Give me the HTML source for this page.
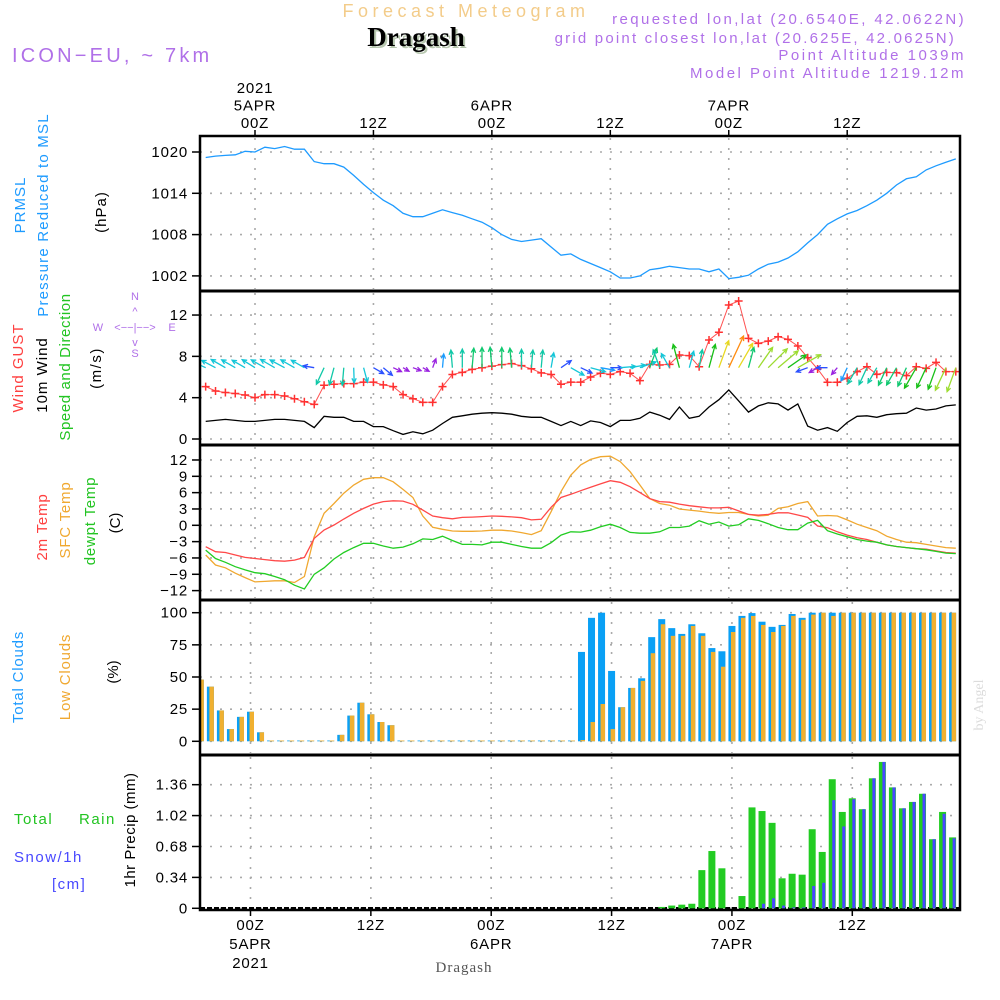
<!DOCTYPE html>
<html><head><meta charset="utf-8"><style>
html,body{margin:0;padding:0;background:#fff;}
svg{display:block;font-family:"Liberation Sans",sans-serif;}
.tk{font-size:15px;fill:#000;letter-spacing:0.8px;}
.lab{font-size:15px;}
</style></head><body>
<svg id="chart" width="1000" height="1000" viewBox="0 0 1000 1000" xmlns="http://www.w3.org/2000/svg">
<defs>
<clipPath id="clipAll"><rect x="201" y="137" width="758" height="772"/></clipPath>
</defs>
<g>
<text x="466" y="17" text-anchor="middle" font-size="18" fill="#f3cc8a" letter-spacing="4.5">Forecast Meteogram</text>
<text x="418" y="48" text-anchor="middle" font-size="27" font-weight="bold" font-family="Liberation Serif, serif" fill="#b8c8b0">Dragash</text>
<text x="416" y="46" text-anchor="middle" font-size="27" font-weight="bold" font-family="Liberation Serif, serif" fill="#000">Dragash</text>
<text x="12" y="62" font-size="20" fill="#b070e8" letter-spacing="3.2">ICON−EU, ~ 7km</text>
<text x="966" y="24" text-anchor="end" font-size="15" fill="#b070e8" letter-spacing="2.4">requested lon,lat (20.6540E, 42.0622N)</text>
<text x="956" y="43" text-anchor="end" font-size="15" fill="#b070e8" letter-spacing="2.2">grid point closest lon,lat (20.625E, 42.0625N)</text>
<text x="966" y="60" text-anchor="end" font-size="15" fill="#b070e8" letter-spacing="2.5">Point Altitude 1039m</text>
<text x="966" y="78" text-anchor="end" font-size="15" fill="#b070e8" letter-spacing="2.5">Model Point Altitude 1219.12m</text>
</g>
<g class="lab">
<text transform="translate(25,205) rotate(-90)" text-anchor="middle" fill="#1e9bff" letter-spacing="1">PRMSL</text>
<text transform="translate(48,215) rotate(-90)" text-anchor="middle" fill="#1e9bff" letter-spacing="1.2">Pressure Reduced to MSL</text>
<text transform="translate(106,212) rotate(-90)" text-anchor="middle" fill="#000" letter-spacing="1">(hPa)</text>
<text transform="translate(23,368) rotate(-90)" text-anchor="middle" fill="#ff4040" letter-spacing="1">Wind GUST</text>
<text transform="translate(47,375) rotate(-90)" text-anchor="middle" fill="#000" letter-spacing="1">10m Wind</text>
<text transform="translate(70,367) rotate(-90)" text-anchor="middle" fill="#22c422" letter-spacing="0.6">Speed and Direction</text>
<text transform="translate(101,368) rotate(-90)" text-anchor="middle" fill="#000" letter-spacing="1.5">(m/s)</text>
<text x="135" y="300" text-anchor="middle" font-size="11" fill="#b070e8">N</text>
<text x="135" y="315" text-anchor="middle" font-size="11" fill="#b070e8">^</text>
<text x="135" y="331" text-anchor="middle" font-size="11" fill="#b070e8">&lt;−−|−−&gt;</text>
<text x="98" y="331" text-anchor="middle" font-size="11" fill="#b070e8">W</text>
<text x="172" y="331" text-anchor="middle" font-size="11" fill="#b070e8">E</text>
<text x="135" y="346" text-anchor="middle" font-size="11" fill="#b070e8">v</text>
<text x="135" y="357" text-anchor="middle" font-size="11" fill="#b070e8">S</text>
<text transform="translate(47,527) rotate(-90)" text-anchor="middle" fill="#ff4040" letter-spacing="0.8">2m Temp</text>
<text transform="translate(70,520) rotate(-90)" text-anchor="middle" fill="#f0a830" letter-spacing="0.8">SFC Temp</text>
<text transform="translate(95,521) rotate(-90)" text-anchor="middle" fill="#22c422" letter-spacing="0.8">dewpt Temp</text>
<text transform="translate(120,523) rotate(-90)" text-anchor="middle" fill="#000">(C)</text>
<text transform="translate(23,677) rotate(-90)" text-anchor="middle" fill="#1e9bff" letter-spacing="0.8">Total Clouds</text>
<text transform="translate(70,677) rotate(-90)" text-anchor="middle" fill="#f0a830" letter-spacing="0.8">Low Clouds</text>
<text transform="translate(118,672) rotate(-90)" text-anchor="middle" fill="#000">(%)</text>
<text x="14" y="824" fill="#22c422" letter-spacing="1.5">Total</text>
<text x="79" y="824" fill="#22c422" letter-spacing="1.5">Rain</text>
<text x="14" y="862" fill="#4848ff" letter-spacing="1.5">Snow/1h</text>
<text x="52" y="889" fill="#4848ff" letter-spacing="1.5">[cm]</text>
<text transform="translate(135,830) rotate(-90)" text-anchor="middle" fill="#000" letter-spacing="0.5">1hr Precip (mm)</text>
<text transform="translate(983,705) rotate(-90)" text-anchor="middle" font-size="14" font-family="Liberation Serif, serif" fill="#dcdcdc">by Angel</text>
<text x="464" y="972" text-anchor="middle" font-size="15" font-family="Liberation Serif, serif" fill="#555" letter-spacing="1">Dragash</text>
</g>
<g id="grid"></g>
<g id="marks" clip-path="url(#clipAll)"></g>
<g id="axes"></g>
</svg>
<script>
// ---------- data (hourly, hours relative to 5APR 00Z) ----------
const hourStart = -5;
const pressure = [1019.2,1019.4,1019.5,1019.6,1020.1,1020,1020.7,1020.5,1020.8,1020.4,1020.4,1018.6,1018.3,1018.3,1017.8,1016.6,1015.3,1014.1,1013,1012.2,1011.1,1010.6,1010.6,1011.1,1011.6,1011.2,1010.8,1010.3,1009.8,1009,1008,1007.3,1007,1007.2,1007.4,1006.2,1005,1005.2,1004.4,1003.8,1003.2,1002.6,1001.7,1001.7,1002,1002.9,1003.1,1003.4,1003.2,1003,1003,1002.6,1003,1001.6,1001.8,1002.1,1003,1003.7,1004,1004.6,1005.5,1006.8,1008,1009.5,1010.3,1011,1011.5,1012.2,1013,1014,1015.2,1016.1,1016.4,1017.4,1018,1018.5,1019];
const windMean = [1.7,1.8,1.9,1.8,1.7,1.7,1.8,1.9,1.9,1.8,1.7,1.1,2.2,2.1,2.1,1.7,1.7,1.2,1.2,0.8,0.45,0.7,0.5,0.85,1.5,2.1,2.25,2.4,2.5,2.55,2.5,2.4,2.2,2.1,2.1,1.7,1.3,1.7,1.3,1.75,1.6,1.2,1.8,1.8,2.0,2.6,2.3,1.9,3.1,2.0,2.2,3.1,3.8,4.75,3.7,2.6,3.2,3.5,3.4,2.8,3.4,1.25,0.85,1.1,0.75,1.6,2.2,2.25,2.1,2.35,2.45,2.5,3.0,2.8,2.9,3.2,3.3];
const windGust = [5.07,4.65,4.5,4.4,4.26,4.0,4.3,4.3,4.16,3.9,3.6,3.35,5.2,5.3,5.36,5.36,5.5,5.5,5.24,5.07,4.3,3.9,3.55,3.55,5.07,6.25,6.45,6.74,6.9,7.05,7.2,7.3,7.1,6.8,6.4,6.25,5.3,5.5,5.5,6.0,6.36,6.26,6.52,6.36,5.65,7.23,7.16,7.23,8.13,8.07,7.0,9.58,10.33,12.97,13.36,9.74,9.26,9.48,9.9,9.65,9.0,7.87,6.78,5.49,5.49,5.88,6.52,7.0,6.26,6.45,6.42,6.13,7.0,6.84,7.42,6.52,6.52];
const windDir = [295,298,300,300,300,302,300,300,298,300,300,280,205,195,185,178,165,120,130,115,120,110,120,20,5,355,0,5,0,355,0,355,0,5,5,10,55,120,115,105,100,90,85,80,70,20,340,330,345,15,10,15,20,25,30,15,35,45,50,55,60,250,240,270,220,205,210,205,210,205,210,205,210,205,200,205,200];
const temp2m = [-3.93,-4.85,-5.0,-5.45,-5.9,-6.1,-6.3,-6.5,-6.6,-6.4,-5.9,-2.4,-0.86,0.05,1.15,2.2,3.1,3.9,4.35,4.5,4.45,3.85,2.8,1.7,1.4,1.2,1.45,1.5,1.6,1.7,1.65,1.55,1.4,1.0,1.1,3.3,5.1,5.7,6.35,7.0,7.6,8.2,7.9,7.1,6.0,4.9,4.35,4.25,3.9,3.6,3.4,3.2,3.2,3.3,2.65,2.0,1.85,2.0,2.3,2.3,1.9,1.45,-0.13,-0.45,-1.2,-1.8,-2.3,-2.6,-3.1,-3.6,-3.9,-4.1,-4.3,-4.4,-4.7,-5.0,-5.1];
const tempSfc = [-5.45,-7.3,-7.8,-8.8,-9.6,-10.4,-10.3,-10.2,-10.2,-10.5,-9.4,-2.1,2.2,4.0,5.9,7.4,8.45,8.75,8.75,8.0,6.6,5.1,1.7,-0.37,-0.74,-1.05,-1.1,-1.1,-1.05,-0.9,-0.9,-1.05,-1.35,-1.7,-1.0,2.5,6.2,9.2,11.1,12.1,12.6,12.7,11.7,9.85,7.4,4.9,4.0,3.7,3.0,2.8,2.6,2.35,2.2,2.35,2.35,2.0,1.7,1.85,3.1,3.4,4.0,4.35,1.7,1.8,1.7,1.0,0.2,-0.4,-1.0,-2.0,-2.6,-3.1,-3.2,-3.5,-3.8,-4.1,-4.2];
const tempDew = [-4.55,-6.1,-6.8,-7.6,-8.2,-8.7,-8.9,-9.4,-10.0,-11.0,-11.7,-9.0,-7.8,-6.2,-5.0,-4.1,-3.3,-3.3,-3.8,-4.2,-4.0,-3.4,-2.5,-2.6,-2.0,-2.8,-3.5,-3.5,-3.6,-3.1,-3.1,-3.5,-3.9,-4.2,-4.2,-3.2,-1.8,-1.2,-1.25,-0.9,-0.25,0.2,-0.4,-1.3,-1.45,-1.45,-1.2,-0.4,-0.4,-0.15,0.85,0.2,0.6,-0.15,0.1,1.2,0.9,0.3,-0.4,-0.8,-0.8,0.4,0.9,-1.0,-1.6,-2.1,-2.6,-2.9,-3.1,-3.6,-3.9,-4.1,-4.3,-4.5,-4.8,-5.1,-5.2];
const cloudTotal = [48,42.5,24,9.5,19,23,7,0,0,0,0,0,0,0,5,20,30,21,15,12.5,0,0,0,0,0,0,0,0,0,0,0,0,0,0,0,0,0,0,69.5,96,100,54.7,26.5,41.5,49,81,95,88,83.5,91,84,72.5,70,89.7,97.5,99.7,93,89,90.5,99,96,100,100,100,100,100,100,100,100,100,100,100,100,100,100,100,100];
const cloudLow = [48,42.5,24,9.5,19,23,7,0,0,0,0,0,0,0,5,20,30,21,15,12.5,0,0,0,0,0,0,0,0,0,0,0,0,0,0,0,0,0,0,1,15,29,9.5,26.5,41.5,47,68.5,91,82,82,89.7,82,69.5,58,85,96,97.5,90.5,85,89.7,97.5,94.5,98.5,100,97.5,100,100,100,100,100,100,100,100,100,100,100,100,100];
const precipStart = 41;
const rainTotal = [0.015,0.03,0.04,0.05,0.42,0.63,0.44,0,0.135,1.11,1.07,0.94,0.33,0.38,0.37,0.87,0.62,1.42,1.06,1.21,1.09,1.43,1.61,1.33,1.10,1.17,1.26,0.76,1.06,0.78,0.84];
const snowTotal = [0,0,0,0,0,0,0,0,0,0,0.05,0.11,0.03,0.01,0.01,0.245,0.28,1.19,0.9,1.2,1.09,1.43,1.61,1.33,1.10,1.17,1.26,0.76,1.04,0.77,0.84];
const pressTicks = [1020,1014,1008,1002];
const windTicks = [12,8,4,0];
const tempTicks = [12,9,6,3,0,-3,-6,-9,-12];
const cloudTicks = [100,75,50,25,0];
const precipTicks = [1.36,1.02,0.68,0.34,0];
const timeTickHours = [0,12,24,36,48,60];
const topTimeLabels = [["2021","5APR","00Z"],["","","12Z"],["","6APR","00Z"],["","","12Z"],["","7APR","00Z"],["","","12Z"]];
const bottomTimeLabels = [["00Z","5APR","2021"],["12Z","",""],["00Z","6APR",""],["12Z","",""],["00Z","7APR",""],["12Z","",""]];

// ---------- axes ----------
const NS="http://www.w3.org/2000/svg";
const X0=200, X1=960;
const xTop = h => 255 + h*9.87;
const xBot = h => 250.5 + h*10.03;
const yP = p => 152 + (1020-p)*6.883;
const yW = v => 439 - v*10.33;
const yT = t => 525.3 - t*5.443;
const yC = c => 741.3 - c*1.286;
const yR = r => 908.3 - r*90.9;
const panels=[[136,291],[291,445],[445,600],[600,755],[755,910]];

function mk(tag, attrs, parent){const e=document.createElementNS(NS,tag);for(const k in attrs)e.setAttribute(k,attrs[k]);parent.appendChild(e);return e;}
const grid=document.getElementById('grid'), marks=document.getElementById('marks'), axes=document.getElementById('axes');

function yAxis(ticks, fy, fmt, pname){
  ticks.forEach(t=>{
    const y=fy(t);
    const g=mk('line',{x1:X0,x2:X1,y1:y,y2:y,stroke:'#aaa','stroke-width':1.6,'stroke-dasharray':'2,8'},grid);
    
    
    const tk=mk('line',{x1:192,x2:X0,y1:y,y2:y,stroke:'#000','stroke-width':1.5},axes);
    
    
    const tx=mk('text',{x:188,y:y+5,'text-anchor':'end',class:'tk'},axes);
    
    
    tx.textContent=fmt(t);
  });
}
yAxis(pressTicks,yP,t=>String(t),'pressure');
yAxis(windTicks,yW,t=>String(t),'wind');
yAxis(tempTicks,yT,t=>t<0?'−'+(-t):String(t),'temp');
yAxis(cloudTicks,yC,t=>String(t),'cloud');
yAxis(precipTicks,yR,t=>t===0?'0':t.toFixed(2),'precip');

timeTickHours.forEach((h,i)=>{
  for(let p=0;p<5;p++){
    const xf = p<3?xTop:xBot;
    const x=xf(h);
    const l=mk('line',{x1:x,x2:x,y1:panels[p][0]+2,y2:panels[p][1]-2,stroke:'#aaa','stroke-width':1.6,'stroke-dasharray':'2,8'},grid);
    
    
  }
  const tt=mk('line',{x1:xTop(h),x2:xTop(h),y1:130,y2:136,stroke:'#000','stroke-width':1.5},axes);
  
  
  const bt=mk('line',{x1:xBot(h),x2:xBot(h),y1:910,y2:916,stroke:'#000','stroke-width':1.5},axes);
  
  
  topTimeLabels[i].forEach((s,j)=>{ if(!s) return;
    const t=mk('text',{x:xTop(h),y:93+j*17.5,'text-anchor':'middle',class:'tk','font-size':'16'},axes);
    
    
    t.textContent=s; });
  bottomTimeLabels[i].forEach((s,j)=>{ if(!s) return;
    const t=mk('text',{x:xBot(h),y:930+j*19,'text-anchor':'middle',class:'tk','font-size':'16'},axes);
    
    
    t.textContent=s; });
});

function line(arr, fx, fy, color, name, w){
  const pts=arr.map((v,i)=>fx(hourStart+i).toFixed(1)+','+fy(v).toFixed(1)).join(' ');
  const pl=mk('polyline',{points:pts,fill:'none',stroke:color,'stroke-width':w||1.3},marks);
  
  
}
line(pressure,xTop,yP,'#1e9bff','pressure-line');
line(windMean,xTop,yW,'#000','wind-mean-line');
line(windGust,xTop,yW,'#ff5050','wind-gust-line',1);
windGust.forEach((v,i)=>{
  const x=xTop(hourStart+i), y=yW(v);
  const m=mk('path',{d:`M${x-4},${y}H${x+4}M${x},${y-4}V${y+4}`,stroke:'#ff3030','stroke-width':1.5},marks);
  
  
});
function spdColor(s){
  if(s<0.9) return '#9a22e0';
  if(s<1.4) return '#2a50ff';
  if(s<1.65) return '#1a9cff';
  if(s<2.05) return '#14c6d8';
  if(s<2.35) return '#10c8a8';
  if(s<2.7) return '#10c870';
  if(s<3.15) return '#18c018';
  if(s<3.6) return '#9cdc30';
  if(s<4.2) return '#e8d820';
  return '#ff8c10';
}
windDir.forEach((d,i)=>{
  const s=windMean[i], x=xTop(hourStart+i), y=yW(6.9);
  const L=4+6.5*s, a=d*Math.PI/180;
  const hx=x+L*Math.sin(a), hy=y-L*Math.cos(a);
  const a1=a+Math.PI-0.45, a2=a+Math.PI+0.45, hl=5;
  const c=spdColor(s);
  const p=mk('path',{d:`M${x.toFixed(1)},${y.toFixed(1)}L${hx.toFixed(1)},${hy.toFixed(1)}M${(hx+hl*Math.sin(a1)).toFixed(1)},${(hy-hl*Math.cos(a1)).toFixed(1)}L${hx.toFixed(1)},${hy.toFixed(1)}L${(hx+hl*Math.sin(a2)).toFixed(1)},${(hy-hl*Math.cos(a2)).toFixed(1)}`,stroke:c,'stroke-width':1.3,fill:'none'},marks);
  
  
});
line(tempSfc,xTop,yT,'#f0a830','sfc-temp-line');
line(temp2m,xTop,yT,'#ff4848','2m-temp-line');
line(tempDew,xTop,yT,'#22cc22','dewpt-temp-line');

cloudTotal.forEach((c,i)=>{
  const x=xBot(hourStart+i);
  const b=mk('rect',{x:x-3.5,y:Math.min(yC(c),yC(0)-0.8),width:7,height:Math.max(yC(0)-yC(c),0.8),fill:'#0aa0f5'},marks);
  
  
  const lc=cloudLow[i];
  const o=mk('rect',{x:x-1,y:Math.min(yC(lc),yC(0)-0.8),width:4.5,height:Math.max(yC(0)-yC(lc),0.8),fill:'#f0b030'},marks);
  
  
});
const zl=mk('line',{x1:X0,x2:X1,y1:yR(0),y2:yR(0),stroke:'#000','stroke-width':2.5,'stroke-dasharray':'5,2'},marks);


rainTotal.forEach((r,i)=>{
  const x=xBot(precipStart+i);
  if(r>0){
    const b=mk('rect',{x:x-3.5,y:yR(r),width:7,height:yR(0)-yR(r),fill:'#22cc22'},marks);
    
    
  }
  const s=snowTotal[i];
  if(s>0){
    const sb=mk('rect',{x:x,y:yR(s),width:3,height:yR(0)-yR(s),fill:'#4848ff'},marks);
    
    
  }
});

const fr=mk('rect',{x:X0,y:136,width:X1-X0,height:774,fill:'none',stroke:'#000','stroke-width':2.5},axes);


[291,445,600,755].forEach(y=>{
  const s=mk('line',{x1:X0,x2:X1,y1:y,y2:y,stroke:'#000','stroke-width':3},axes);
  
  
});
</script>
</body></html>
